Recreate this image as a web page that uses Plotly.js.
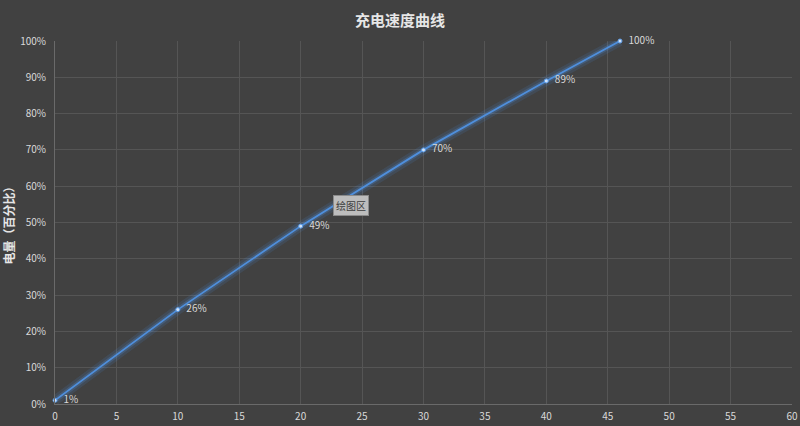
<!DOCTYPE html>
<html>
<head>
<meta charset="utf-8">
<script src="https://cdn.plot.ly/plotly-3.0.1.min.js"></script>
<style>
  html, body { margin: 0; padding: 0; background: #414141; }
  #chart { width: 800px; height: 426px; }
</style>
</head>
<body>
<div id="chart"></div>
<script>
// charging time (minutes) vs battery level (%)
var minutes = [0, 10, 20, 30, 40, 46];
var level = [1, 26, 49, 70, 89, 100];
var pointLabels = ['1%', '26%', '49%', '70%', '89%', '100%'];
var xTicks = [0, 5, 10, 15, 20, 25, 30, 35, 40, 45, 50, 55, 60];
var yTicks = [0, 10, 20, 30, 40, 50, 60, 70, 80, 90, 100];
var yTickText = yTicks.map(function (v) { return v + '%'; });

var font = '"Noto Sans CJK SC", "Noto Sans", sans-serif';

var glow = {
  x: minutes, y: level,
  mode: 'lines',
  line: { color: 'rgba(80,150,230,0.13)', width: 10 },
  hoverinfo: 'skip',
  showlegend: false
};
var glow2 = {
  x: minutes, y: level,
  mode: 'lines',
  line: { color: 'rgba(80,150,230,0.22)', width: 5 },
  hoverinfo: 'skip',
  showlegend: false
};
var main = {
  x: minutes, y: level,
  mode: 'lines+markers+text',
  line: { color: '#4f8fdc', width: 1.8 },
  marker: { color: '#cfe2fa', size: 4, line: { color: '#5b9be6', width: 1 } },
  text: pointLabels.map(function (t) { return '\u2002' + t; }),
  textposition: 'middle right',
  textfont: { family: font, size: 10, color: '#d9d9d9' },
  cliponaxis: false,
  showlegend: false
};

var layout = {
  width: 800,
  height: 426,
  paper_bgcolor: '#414141',
  plot_bgcolor: '#414141',
  margin: { l: 55, r: 8, t: 41, b: 22 },
  font: { family: font, color: '#d9d9d9', size: 10 },
  title: {
    text: '<b>充电速度曲线</b>',
    x: 0.5, xanchor: 'center',
    y: 0.952, yanchor: 'middle',
    font: { family: font, size: 15, color: '#e6e6e6' }
  },
  xaxis: {
    range: [0, 60],
    tickvals: xTicks,
    ticks: 'outside',
    ticklen: 3,
    tickcolor: 'rgba(0,0,0,0)',
    showgrid: true,
    gridcolor: '#555555',
    gridwidth: 1,
    zeroline: false,
    showline: true,
    linecolor: '#6a6a6a',
    tickfont: { family: font, size: 10, color: '#d9d9d9' },
    fixedrange: true
  },
  yaxis: {
    range: [0, 100],
    tickvals: yTicks,
    ticktext: yTickText,
    ticks: 'outside',
    ticklen: 6,
    tickcolor: 'rgba(0,0,0,0)',
    showgrid: true,
    gridcolor: '#555555',
    gridwidth: 1,
    zeroline: false,
    showline: true,
    linecolor: '#6a6a6a',
    tickfont: { family: font, size: 10, color: '#d9d9d9' },
    title: {
      text: '<b>电量（百分比）</b>',
      standoff: 8,
      font: { family: font, size: 12, color: '#e6e6e6' }
    },
    fixedrange: true
  },
  annotations: [{
    x: 24.1, y: 54.8,
    xref: 'x', yref: 'y',
    text: '绘图区',
    showarrow: false,
    font: { family: font, size: 10, color: '#3c3c3c' },
    bgcolor: '#bdbdbd',
    bordercolor: '#8a8a8a',
    borderwidth: 1,
    borderpad: 2
  }]
};

Plotly.newPlot('chart', [glow, glow2, main], layout, { displayModeBar: false, staticPlot: true });
</script>
</body>
</html>
